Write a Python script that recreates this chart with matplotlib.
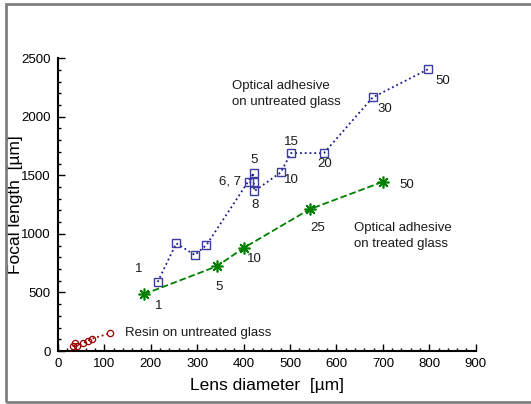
import numpy as np
import matplotlib.pyplot as plt
from matplotlib.ticker import MultipleLocator
from matplotlib.patches import Rectangle

plt.rcParams['font.family'] = ['Liberation Sans', 'DejaVu Sans']

# Optical adhesive on untreated glass
d_untreated = [215, 255, 295, 320, 422, 412, 422, 423, 480, 502, 573, 678, 797]
f_untreated = [590, 920, 820, 905, 1520, 1440, 1440, 1365, 1525, 1690, 1690, 2165, 2405]

# Optical adhesive on treated glass
d_treated = [185, 343, 400, 542, 700]
f_treated = [485, 725, 880, 1210, 1445]

# Resin on untreated glass
d_resin = [32, 36, 42, 55, 65, 73, 112]
f_resin = [40, 65, 45, 70, 90, 105, 152]

# labels (text, x, y, ha)
lab_untreated = [('1', 174, 700, 'center'), ('5', 423, 1632, 'center'),
                 ('6, 7', 395, 1445, 'right'), ('8', 424, 1246, 'center'),
                 ('10', 502, 1459, 'center'), ('15', 502, 1786, 'center'),
                 ('20', 575, 1596, 'center'), ('30', 705, 2065, 'center'),
                 ('50', 830, 2301, 'center')]
lab_treated = [('1', 217, 384, 'center'), ('5', 347, 546, 'center'),
               ('10', 424, 785, 'center'), ('25', 560, 1049, 'center'),
               ('50', 751, 1416, 'center')]

fig = plt.figure(figsize=(5.31, 4.04), dpi=100)
ax = fig.add_axes([0.109, 0.131, 0.787, 0.725])

blue = '#1a1a8c'
green = '#008000'
red = '#990000'

ax.plot(d_untreated, f_untreated, ':', color=blue, lw=1.3, marker='s', ms=6.2,
        mfc='none', mec='#3c3ca0', mew=1.0)
ax.plot(d_treated, f_treated, '--', color=green, lw=1.3, marker=(8, 2, 0), ms=8.5,
        mec=green, mew=1.2)
ax.plot(d_resin, f_resin, ':', color=red, lw=1.3, marker='o', ms=4.5,
        mfc='none', mec=red, mew=0.9)

for t, x, y, ha in lab_untreated + lab_treated:
    ax.text(x, y, t, ha=ha, va='center', fontsize=9.5, color='#1a1a1a')

ax.text(375, 2193, 'Optical adhesive\non untreated glass', ha='left', va='center',
        fontsize=9.5, linespacing=1.45, color='#1a1a1a')
ax.text(637, 981, 'Optical adhesive\non treated glass', ha='left', va='center',
        fontsize=9.5, linespacing=1.45, color='#1a1a1a')
ax.text(145, 151, 'Resin on untreated glass', ha='left', va='center',
        fontsize=9.5, color='#1a1a1a')

ax.set_xlim(0, 900)
ax.set_ylim(0, 2500)
ax.xaxis.set_major_locator(MultipleLocator(100))
ax.xaxis.set_minor_locator(MultipleLocator(20))
ax.yaxis.set_major_locator(MultipleLocator(500))
ax.yaxis.set_minor_locator(MultipleLocator(100))
ax.tick_params(which='both', direction='in', width=1, labelsize=9.5, pad=5)
ax.tick_params(which='major', length=5)
ax.tick_params(which='minor', length=2.5)
for s in ['top', 'right']:
    ax.spines[s].set_visible(False)
for s in ['left', 'bottom']:
    ax.spines[s].set_linewidth(1.5)

ax.set_xlabel('Lens diameter  [\u00b5m]', fontsize=12.5)
ax.set_ylabel('Focal length  [\u00b5m]', fontsize=12.5)
ax.xaxis.set_label_coords(0.5, -0.092)
ax.yaxis.set_label_coords(-0.084, 0.5)

# grey frame around figure
fig.patches.append(Rectangle((0.011, 0.004), 1.2, 0.985, transform=fig.transFigure,
                             fill=False, ec='#808080', lw=2))

fig.savefig('out.png', dpi=100)
